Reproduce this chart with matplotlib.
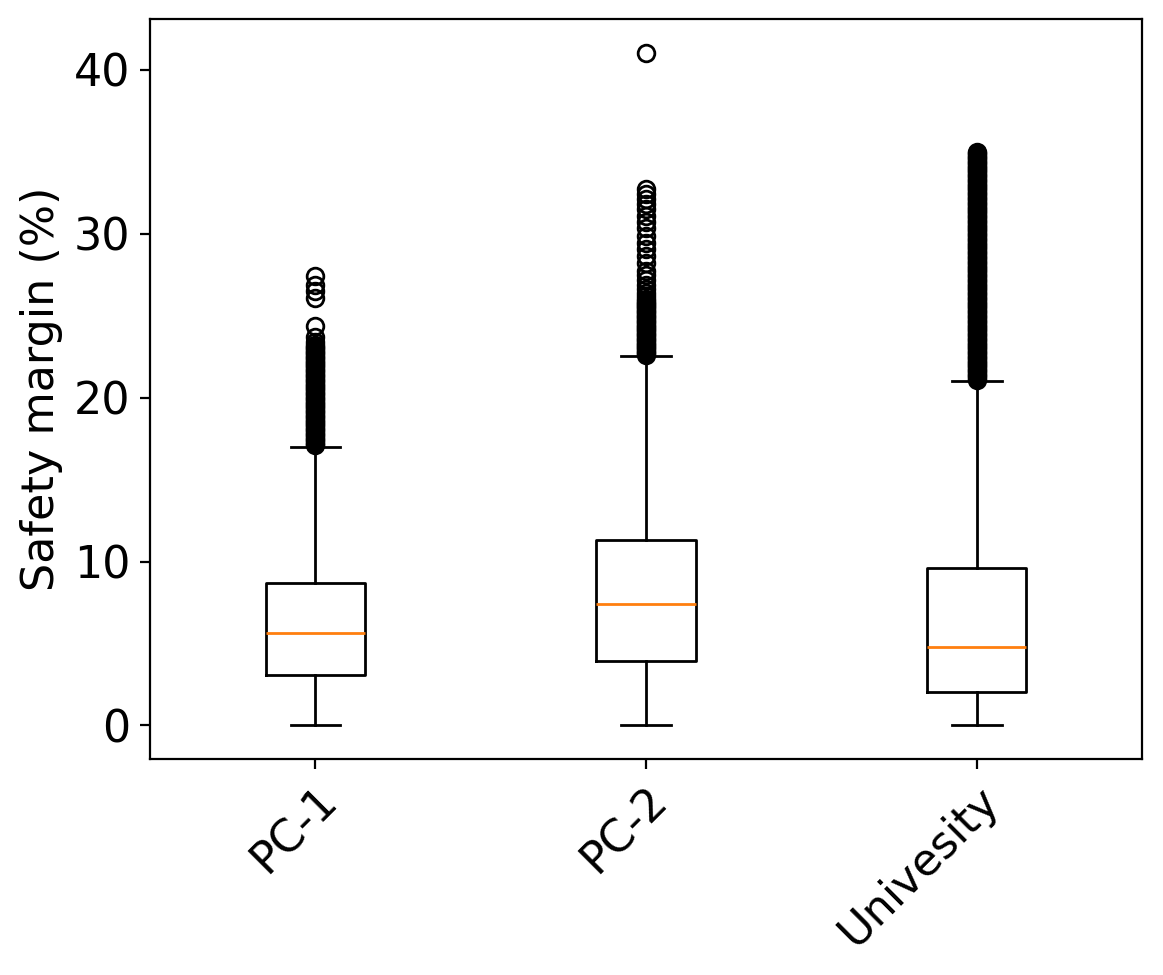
import matplotlib
matplotlib.use("Agg")
import matplotlib.pyplot as plt

# Box statistics
labels = ["PC-1", "PC-2", "Univesity"]
whislo = [0.0, 0.0, 0.0]
q1 = [3.1, 3.93, 2.04]
med = [5.66, 7.41, 4.78]
q3 = [8.68, 11.33, 9.61]
whishi = [17.0, 22.51, 21.04]

# Outliers (dense bands typed out at 0.1 steps so they read as solid)
fliers_pc1 = [17.1, 17.2, 17.3, 17.4, 17.5, 17.6, 17.7, 17.8, 17.9, 18.0,
              18.1, 18.2, 18.3, 18.4, 18.5, 18.6, 18.7, 18.8, 18.9, 19.0,
              19.1, 19.2, 19.3, 19.4, 19.5, 19.6, 19.7, 19.8, 19.9, 20.0,
              20.1, 20.2, 20.3, 20.4, 20.5, 20.6, 20.7, 20.8, 20.9, 21.0,
              21.1, 21.2, 21.3, 21.4, 21.5, 21.6, 21.7, 21.8, 21.9, 22.0,
              22.1, 22.2, 22.3, 22.4, 22.5, 22.6, 22.7, 22.8, 22.9, 23.0,
              23.1, 23.2, 23.4, 23.7, 24.36, 26.1, 26.5, 26.9, 27.4]
fliers_pc2 = [22.6, 22.7, 22.8, 22.9, 23.0, 23.1, 23.2, 23.3, 23.4, 23.5,
              23.6, 23.7, 23.8, 23.9, 24.0, 24.1, 24.2, 24.3, 24.4, 24.5,
              24.6, 24.7, 24.8, 24.9, 25.0, 25.1, 25.2, 25.3, 25.4, 25.5,
              25.6, 25.7, 25.8, 25.9, 26.0, 26.2, 26.4, 26.6, 26.9, 27.2,
              27.5, 27.73, 28.24, 28.64, 29.05, 29.46, 29.87, 30.38, 30.69,
              31.1, 31.5, 31.81, 32.11, 32.42, 32.72, 41.05]
fliers_uni = [21.1, 21.2, 21.3, 21.4, 21.5, 21.6, 21.7, 21.8, 21.9, 22.0,
              22.1, 22.2, 22.3, 22.4, 22.5, 22.6, 22.7, 22.8, 22.9, 23.0,
              23.1, 23.2, 23.3, 23.4, 23.5, 23.6, 23.7, 23.8, 23.9, 24.0,
              24.1, 24.2, 24.3, 24.4, 24.5, 24.6, 24.7, 24.8, 24.9, 25.0,
              25.1, 25.2, 25.3, 25.4, 25.5, 25.6, 25.7, 25.8, 25.9, 26.0,
              26.1, 26.2, 26.3, 26.4, 26.5, 26.6, 26.7, 26.8, 26.9, 27.0,
              27.1, 27.2, 27.3, 27.4, 27.5, 27.6, 27.7, 27.8, 27.9, 28.0,
              28.1, 28.2, 28.3, 28.4, 28.5, 28.6, 28.7, 28.8, 28.9, 29.0,
              29.1, 29.2, 29.3, 29.4, 29.5, 29.6, 29.7, 29.8, 29.9, 30.0,
              30.1, 30.2, 30.3, 30.4, 30.5, 30.6, 30.7, 30.8, 30.9, 31.0,
              31.1, 31.2, 31.3, 31.4, 31.5, 31.6, 31.7, 31.8, 31.9, 32.0,
              32.1, 32.2, 32.3, 32.4, 32.5, 32.6, 32.7, 32.8, 32.9, 33.0,
              33.1, 33.2, 33.3, 33.4, 33.5, 33.6, 33.7, 33.8, 33.9, 34.0,
              34.1, 34.2, 34.3, 34.4, 34.5, 34.6, 34.7, 34.8, 34.9, 35.0]
fliers = [fliers_pc1, fliers_pc2, fliers_uni]

stats = []
for i in range(len(labels)):
    stats.append({
        "label": labels[i],
        "whislo": whislo[i],
        "q1": q1[i],
        "med": med[i],
        "q3": q3[i],
        "whishi": whishi[i],
        "fliers": fliers[i],
    })

fig = plt.figure(figsize=(5.815, 4.875), dpi=200)
ax = fig.add_axes([0.129, 0.2215, 0.853, 0.759])

ax.bxp(stats, widths=0.3)

ax.set_ylabel("Safety margin (%)", fontsize=16)
ax.tick_params(axis="both", labelsize=16)
plt.setp(ax.get_xticklabels(), rotation=45, ha="right",
         rotation_mode="anchor")

fig.savefig("out.png", dpi=200)
